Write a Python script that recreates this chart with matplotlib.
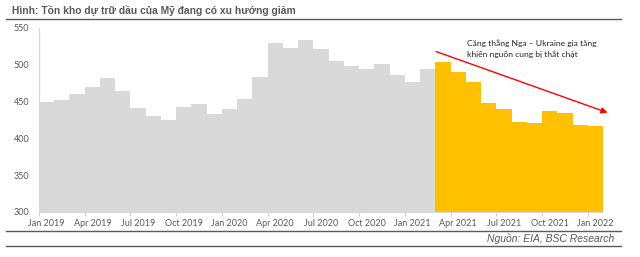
import matplotlib
matplotlib.use("Agg")
import matplotlib.pyplot as plt
from matplotlib.lines import Line2D

# ---- data ----
months = ["Jan 2019", "Feb 2019", "Mar 2019", "Apr 2019", "May 2019", "Jun 2019",
          "Jul 2019", "Aug 2019", "Sep 2019", "Oct 2019", "Nov 2019", "Dec 2019",
          "Jan 2020", "Feb 2020", "Mar 2020", "Apr 2020", "May 2020", "Jun 2020",
          "Jul 2020", "Aug 2020", "Sep 2020", "Oct 2020", "Nov 2020", "Dec 2020",
          "Jan 2021", "Feb 2021", "Mar 2021", "Apr 2021", "May 2021", "Jun 2021",
          "Jul 2021", "Aug 2021", "Sep 2021", "Oct 2021", "Nov 2021", "Dec 2021",
          "Jan 2022"]
values = [449.5, 452.2, 459.9, 470.3, 481.6, 463.9, 441.7, 430.4, 425.5, 443.0,
          446.3, 433.2, 440.4, 453.1, 483.9, 530.0, 522.4, 533.7, 521.0, 505.2,
          498.4, 494.3, 501.5, 486.0, 476.2, 493.8, 503.4, 490.6, 477.0, 448.5,
          440.0, 422.7, 420.5, 437.2, 435.0, 418.2, 417.3]
highlight_start = "Mar 2021"
tick_labels = ["Jan 2019", "Apr 2019", "Jul 2019", "Oct 2019", "Jan 2020", "Apr 2020",
               "Jul 2020", "Oct 2020", "Jan 2021", "Apr 2021", "Jul 2021", "Oct 2021",
               "Jan 2022"]
y_ticks = [300, 350, 400, 450, 500, 550]
title = "Hình: Tồn kho dự trữ dầu của Mỹ đang có xu hướng giảm"
note = "Căng thẳng Nga – Ukraine gia tăng\nkhiến nguồn cung bị thắt chặt"
source = "Nguồn: EIA, BSC Research"

GRAY = "#D9D9D9"
YELLOW = "#FFC000"
TXT = "#595959"

fig = plt.figure(figsize=(6.4, 2.57), dpi=100)
ax = fig.add_axes([39/640, 1-212/257, (603-39)/640, (212-28)/257])

hi = months.index(highlight_start)
x = list(range(len(months)))
colors = [GRAY if i < hi else YELLOW for i in x]
ax.bar(x, values, width=1.0, color=colors, edgecolor="none")

ax.set_xlim(-0.5, len(months) - 0.5)
ax.set_ylim(300, 550)

# y axis
ax.set_yticks(y_ticks)
ax.set_yticklabels([str(v) for v in y_ticks], fontsize=6.5, color=TXT, family="Lato")
ax.tick_params(axis="y", length=0, pad=7)

# x axis: tick marks at quarter boundaries, labels at bar centres
label_pos = [months.index(m) for m in tick_labels]
ax.set_xticks([p - 0.5 for p in label_pos])
ax.set_xticklabels([])
ax.tick_params(axis="x", which="major", length=3, color="#D0D0D0", width=0.8)
ax.set_xticks(label_pos, minor=True)
ax.set_xticklabels(tick_labels, minor=True, fontsize=6.5, color=TXT, family="Lato")
ax.tick_params(axis="x", which="minor", length=0, pad=5)

for s in ["top", "right"]:
    ax.spines[s].set_visible(False)
for s in ["left", "bottom"]:
    ax.spines[s].set_color("#D9D9D9")
    ax.spines[s].set_linewidth(0.8)

# annotation arrow
ax.annotate("", xy=(36.8, 435), xytext=(25.55, 518),
            arrowprops=dict(arrowstyle="-|>", color="#FF0000", lw=1.0,
                            mutation_scale=9, shrinkA=0, shrinkB=0),
            annotation_clip=False)
ax.text(27.6, 535, note, fontsize=6.1, color="#262626", family="Lato",
        va="top", ha="left", linespacing=1.55)

# title, frame lines and source
fig.text(12/640, 1-10.5/257, title, fontsize=7.4, fontweight="bold", color=TXT,
         family="Liberation Sans", ha="left", va="center")
for yy in [19, 231, 245.5]:
    fig.add_artist(Line2D([6/640, 621/640], [1-yy/257, 1-yy/257],
                          color="#5A5A5A", lw=1.0, transform=fig.transFigure))
fig.text(614/640, 1-238/257, source, fontsize=7.5, style="italic", color=TXT,
         family="Liberation Sans", ha="right", va="center")

fig.savefig("out.png", dpi=100)
